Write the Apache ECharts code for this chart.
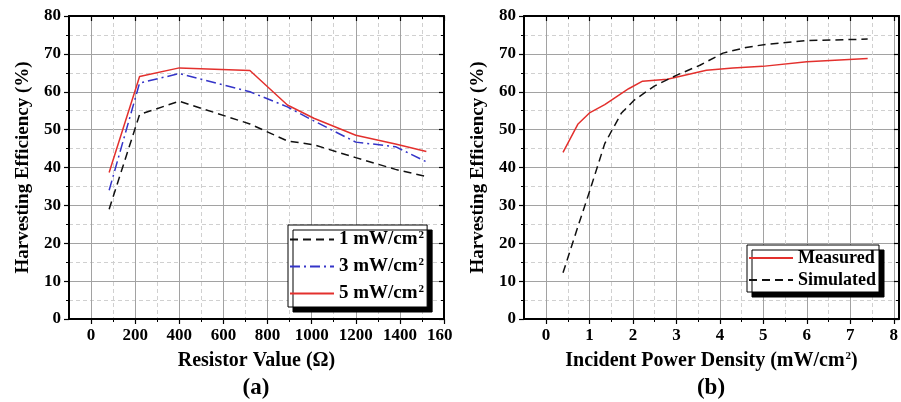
<!DOCTYPE html>
<html>
<head>
<meta charset="utf-8">
<script src="https://cdn.jsdelivr.net/npm/echarts@6/dist/echarts.min.js"></script>
<style>
html,body{margin:0;padding:0;background:#fff;}
#chart{width:901px;height:402px;}
</style>
</head>
<body>
<div id="chart"></div>
<script>
// ---------- data ----------
var resistorValues = [82, 220, 400, 720, 890, 1010, 1200, 1380, 1520];
var eff1mW = [29, 54, 57.5, 51.5, 47, 46, 42.6, 39.5, 37.6];
var eff3mW = [34, 62.3, 64.8, 60, 56, 52.3, 46.7, 45.5, 41.5];
var eff5mW = [38.7, 64, 66.3, 65.6, 56.5, 53, 48.5, 46.2, 44.2];

var measuredDensity = [0.39, 0.73, 1.01, 1.35, 1.9, 2.22, 2.79, 3.69, 4.3, 4.98, 6.0, 7.4];
var measuredEff = [44, 51.4, 54.5, 56.6, 60.8, 62.8, 63.3, 65.7, 66.3, 66.7, 67.9, 68.8];
var simulatedDensity = [0.39, 0.73, 1.01, 1.35, 1.73, 2.03, 2.49, 3.01, 3.54, 4.07, 4.6, 5.05, 6.0, 7.4];
var simulatedEff = [12.2, 24.3, 34, 46.3, 54.3, 57.8, 61.5, 64.4, 67, 70.2, 71.7, 72.5, 73.5, 73.9];

var leftXTicks = ['0', '200', '400', '600', '800', '1000', '1200', '1400', '1600'];
var rightXTicks = ['0', '1', '2', '3', '4', '5', '6', '7', '8'];
var yTicks = ['0', '10', '20', '30', '40', '50', '60', '70', '80'];
var leftSeriesNames = ['1 mW/cm²', '3 mW/cm²', '5 mW/cm²'];
var rightSeriesNames = ['Measured', 'Simulated'];

// ---------- helpers ----------
function pairs(xs, ys) { return xs.map(function (x, i) { return [x, ys[i]]; }); }
var FONT = 'Liberation Serif';
var BLACK = '#000';
var MAJOR = '#a2a2a2';
var MINOR = '#d0d0d0';

function frameAxis(gridIndex, position, extra) {
  return Object.assign({
    gridIndex: gridIndex, position: position, type: 'value',
    axisLine: { show: true, onZero: false, lineStyle: { color: BLACK, width: 2 } },
    axisTick: { show: false }, axisLabel: { show: false },
    splitLine: { show: false }
  }, extra);
}

function tickAxis(gridIndex, position, min, max, interval, inside, labels, extra) {
  return Object.assign({
    gridIndex: gridIndex, position: position, type: 'value',
    min: min, max: max, interval: interval,
    axisLine: { show: false, onZero: false },
    axisTick: { show: true, inside: inside, length: 5, lineStyle: { color: BLACK, width: 1.2 } },
    minorTick: { show: true, splitNumber: 2, length: 3, lineStyle: { color: BLACK, width: 1 } },
    axisLabel: labels ? {
      show: true, margin: 8, fontFamily: FONT, fontWeight: 'bold', fontSize: 17, color: BLACK,
      formatter: function (v) { var i = Math.round((v - min) / interval); return labels[i] !== undefined ? labels[i] : ''; }
    } : { show: false },
    splitLine: { show: false },
    minorSplitLine: { show: false }
  }, extra);
}

var gridSplit = {
  splitLine: { show: true, lineStyle: { color: MAJOR, width: 1 } },
  minorSplitLine: { show: true, lineStyle: { color: MINOR, width: 1, type: [4, 3] } }
};

var nameStyle = { fontFamily: FONT, fontWeight: 'bold', fontSize: 19, color: BLACK };
var hiddenSymbol = { color: 'rgba(0,0,0,0)', borderColor: 'rgba(0,0,0,0)', borderWidth: 0, opacity: 0 };

var option = {
  backgroundColor: '#fff',
  animation: false,
  grid: [
    { left: 69, right: 457, top: 16, bottom: 83 },
    { left: 91.06, right: 457, top: 16, bottom: 83 },
    { left: 524, right: 2, top: 16, bottom: 83 },
    { left: 546.06, right: 2, top: 16, bottom: 83 }
  ],
  xAxis: [
    frameAxis(0, 'bottom', { min: -100, max: 1600, name: 'Resistor Value (Ω)', nameLocation: 'middle', nameGap: 32, nameTextStyle: { fontFamily: FONT, fontWeight: 'bold', fontSize: 20, color: BLACK } }),
    frameAxis(0, 'top', { min: -100, max: 1600 }),
    tickAxis(1, 'bottom', 0, 1600, 200, false, leftXTicks, gridSplit),
    tickAxis(1, 'top', 0, 1600, 200, true, null),
    frameAxis(2, 'bottom', { min: -0.5, max: 8, name: '{n|Incident Power Density (mW/cm}{s|2}{n|)}', nameLocation: 'middle', nameGap: 32,
      nameTextStyle: { rich: {
        n: { fontFamily: FONT, fontWeight: 'bold', fontSize: 20, color: BLACK },
        s: { fontFamily: FONT, fontWeight: 'bold', fontSize: 11, color: BLACK, verticalAlign: 'top', padding: [0, 0, 0, 1] }
      } } }),
    frameAxis(2, 'top', { min: -0.5, max: 8 }),
    tickAxis(3, 'bottom', 0, 8, 1, false, rightXTicks, gridSplit),
    tickAxis(3, 'top', 0, 8, 1, true, null)
  ],
  yAxis: [
    tickAxis(0, 'left', 0, 80, 10, false, yTicks, Object.assign({
      axisLine: { show: true, onZero: false, lineStyle: { color: BLACK, width: 2 } },
      name: 'Harvesting Efficiency (%)', nameLocation: 'middle', nameGap: 36, nameTextStyle: nameStyle
    }, gridSplit)),
    tickAxis(0, 'right', 0, 80, 10, true, null, { axisLine: { show: true, onZero: false, lineStyle: { color: BLACK, width: 2 } } }),
    { gridIndex: 1, type: 'value', min: 0, max: 80, show: false },
    tickAxis(2, 'left', 0, 80, 10, false, yTicks, Object.assign({
      axisLine: { show: true, onZero: false, lineStyle: { color: BLACK, width: 2 } },
      name: 'Harvesting Efficiency (%)', nameLocation: 'middle', nameGap: 36, nameTextStyle: nameStyle
    }, gridSplit)),
    tickAxis(2, 'right', 0, 80, 10, true, null, { axisLine: { show: true, onZero: false, lineStyle: { color: BLACK, width: 2 } } }),
    { gridIndex: 3, type: 'value', min: 0, max: 80, show: false }
  ],
  legend: [
    {
      data: leftSeriesNames, orient: 'vertical', left: 288, top: 225,
      itemWidth: 44, itemHeight: 14, itemGap: 8,
      padding: [5, 3, 4, 1],
      backgroundColor: '#fff', borderColor: BLACK, borderWidth: 1,
      shadowColor: BLACK, shadowOffsetX: 5, shadowOffsetY: 5, shadowBlur: 0,
      itemStyle: hiddenSymbol,
      formatter: function (name) { return '{t|' + name.replace('²', '') + '}{s|2}'; },
      textStyle: { rich: {
        t: { fontFamily: FONT, fontWeight: 'bold', fontSize: 19, color: BLACK },
        s: { fontFamily: FONT, fontWeight: 'bold', fontSize: 11, color: BLACK, verticalAlign: 'top', padding: [0, 0, 0, 1] }
      } }
    },
    {
      data: rightSeriesNames, orient: 'vertical', left: 747, top: 245,
      itemWidth: 44, itemHeight: 14, itemGap: 4,
      padding: [4, 3, 3, 1],
      backgroundColor: '#fff', borderColor: BLACK, borderWidth: 1,
      shadowColor: BLACK, shadowOffsetX: 5, shadowOffsetY: 5, shadowBlur: 0,
      itemStyle: hiddenSymbol,
      textStyle: { fontFamily: FONT, fontWeight: 'bold', fontSize: 18, color: BLACK }
    }
  ],
  graphic: [
    { type: 'rect', shape: { x: 453, y: 326, width: 12, height: 22 }, style: { fill: '#fff' }, z: 100 },
    { type: 'text', x: 256, y: 388, style: { text: '(a)', fontFamily: FONT, fontWeight: 'bold', fontSize: 23, fill: BLACK, textAlign: 'center', textVerticalAlign: 'middle' } },
    { type: 'text', x: 711, y: 388, style: { text: '(b)', fontFamily: FONT, fontWeight: 'bold', fontSize: 23, fill: BLACK, textAlign: 'center', textVerticalAlign: 'middle' } }
  ],
  series: [
    { name: leftSeriesNames[0], type: 'line', xAxisIndex: 2, yAxisIndex: 2, symbol: 'none', data: pairs(resistorValues, eff1mW),
      lineStyle: { color: '#111', width: 1.5, type: [8, 5] }, itemStyle: { color: '#111' }, z: 5 },
    { name: leftSeriesNames[1], type: 'line', xAxisIndex: 2, yAxisIndex: 2, symbol: 'none', data: pairs(resistorValues, eff3mW),
      lineStyle: { color: '#3434c8', width: 1.5, type: [10, 4, 2, 4] }, itemStyle: { color: '#3434c8' }, z: 5 },
    { name: leftSeriesNames[2], type: 'line', xAxisIndex: 2, yAxisIndex: 2, symbol: 'none', data: pairs(resistorValues, eff5mW),
      lineStyle: { color: '#e3302d', width: 1.5 }, itemStyle: { color: '#e3302d' }, z: 5 },
    { name: rightSeriesNames[0], type: 'line', xAxisIndex: 6, yAxisIndex: 5, symbol: 'none', data: pairs(measuredDensity, measuredEff),
      lineStyle: { color: '#e3302d', width: 1.5 }, itemStyle: { color: '#e3302d' }, z: 5 },
    { name: rightSeriesNames[1], type: 'line', xAxisIndex: 6, yAxisIndex: 5, symbol: 'none', data: pairs(simulatedDensity, simulatedEff),
      lineStyle: { color: '#111', width: 1.5, type: [8, 5] }, itemStyle: { color: '#111' }, z: 5 }
  ]
};

var chart = echarts.init(document.getElementById('chart'), null, { renderer: 'canvas' });
chart.setOption(option);
</script>
</body>
</html>
